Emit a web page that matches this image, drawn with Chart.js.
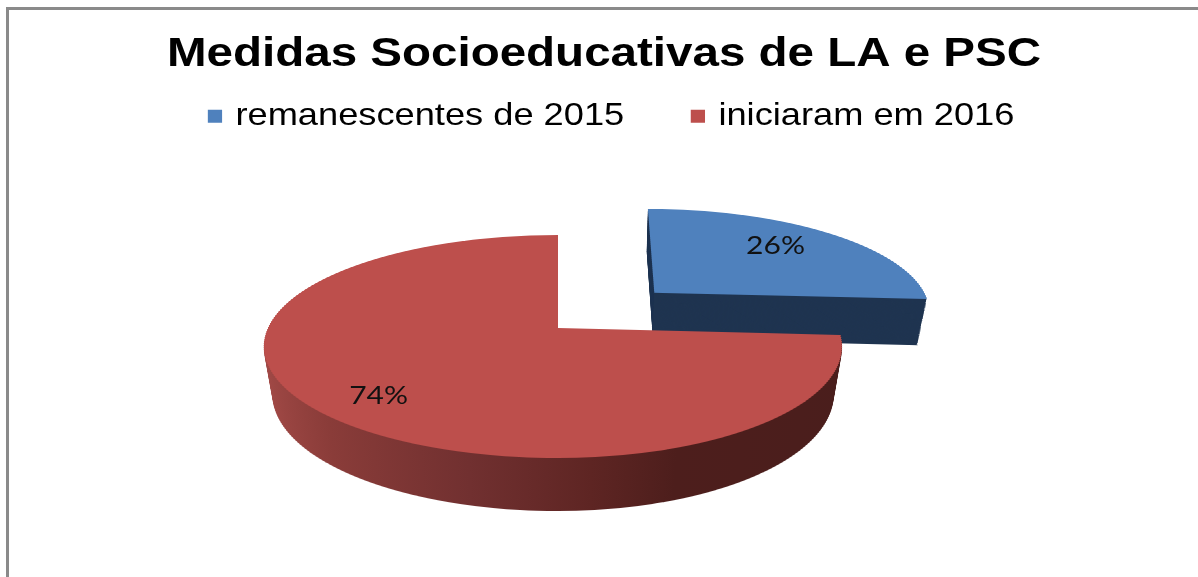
<!DOCTYPE html>
<html>
<head>
<meta charset="utf-8">
<title>Medidas Socioeducativas de LA e PSC</title>
<script src="https://cdn.jsdelivr.net/npm/chart.js@4"></script>
<style>
  html, body { margin: 0; padding: 0; background: #fff; overflow: hidden; }
  #frame { position: absolute; left: 6px; top: 7px; right: -10px; bottom: -10px; border: 3px solid #8a8a8a; }
  #grafico { position: absolute; left: 0; top: 0; }
</style>
</head>
<body>
<div id="frame"></div>
<canvas id="grafico" width="1198" height="577"></canvas>
<script>
const tituloGrafico = 'Medidas Socioeducativas de LA e PSC';
const categorias = ['remanescentes de 2015', 'iniciaram em 2016'];
const valores = [26, 74];
const coresTopo = ['#4f81bd', '#bd4f4c'];

// perspectiva do "pizza 3D": o Chart.js calcula os arcos, aqui so projeta
const vista = { x0: 558, y0: 328, aEsq: 290, aDir: 280, b: 108.4, k: 0.166, alt: 47.5, enc: 0.03 };
// a fatia azul tem eixo proprio, a borda esquerda dela quase nao inclina no original
const eixoAzul = { x0: 607, a: 285, du: 0.19 };
const esticaTexto = 1.188;
const fatorRotulo = [0.74, 0.77];
const ajusteRotulo = [[-10, -1], [-1, 5]];

// o ArcElement desloca so offset/4
function deslocamento(el, raio) {
  return el.options.offset / 4 / raio;
}

function desenhaFace(ctx, el, raio, d, cor) {
  const s = 1 - vista.enc * d;
  const base = vista.alt * d;
  const linhaDeV = v => vista.y0 + (base + s * vista.b * v) / (1 - vista.k * v);
  const vDeLinha = y => {
    const dy = y - vista.y0;
    return (dy - base) / (s * vista.b + vista.k * dy);
  };
  const meio = (el.startAngle + el.endAngle) / 2;
  const desl = deslocamento(el, raio);
  const vc = Math.sin(meio) * desl;
  const azul = Math.cos(meio) > 0 && desl > 0;
  const topo = Math.floor(linhaDeV(vc - 1.02));
  const fim = Math.ceil(linhaDeV(vc + 1.02));
  const opts = el.options;
  el.options = Object.create(opts, { backgroundColor: { value: cor } });
  // lado esquerdo e direito tem larguras um pouco diferentes no original
  const lados = azul
    ? [[0, 1198, eixoAzul.a, eixoAzul.x0, el.x + eixoAzul.du * raio]]
    : [[0, vista.x0, vista.aEsq, vista.x0, el.x], [vista.x0, 1198, vista.aDir, vista.x0, el.x]];
  for (let y = topo; y < fim; y += 2) {
    const vA = vDeLinha(y);
    const vB = vDeLinha(y + 2);
    const w = 1 - vista.k * (vA + vB) / 2;
    const sy = 2 / ((vB - vA) * raio);
    const ty = y - (el.y + vA * raio) * sy;
    for (const [x1, x2, a, xTela, xPlano] of lados) {
      const sx = s * a / (raio * w);
      ctx.save();
      ctx.beginPath();
      ctx.rect(x1, y, x2 - x1, 2);
      ctx.clip();
      ctx.setTransform(sx, 0, 0, sy, xTela - xPlano * sx, ty);
      el.draw(ctx);
      ctx.restore();
    }
  }
  el.options = opts;
}

function desenhaRotulo(ctx, el, raio, i) {
  const meio = (el.startAngle + el.endAngle) / 2;
  const desl = deslocamento(el, raio);
  const r = fatorRotulo[i] + desl;
  const u = Math.cos(meio) * r;
  const v = Math.sin(meio) * r;
  const w = 1 - vista.k * v;
  const x = desl > 0
    ? eixoAzul.x0 + eixoAzul.a * (u - eixoAzul.du) / w
    : vista.x0 + (u < 0 ? vista.aEsq : vista.aDir) * u / w;
  const y = vista.y0 + vista.b * v / w;
  ctx.save();
  ctx.translate(x + ajusteRotulo[i][0], y + ajusteRotulo[i][1]);
  ctx.scale(1.2, 1);
  ctx.font = '25px Lato';
  ctx.fillStyle = '#111';
  ctx.textAlign = 'center';
  ctx.textBaseline = 'middle';
  ctx.fillText(valores[i] + '%', 0, 0);
  ctx.restore();
}

const pizza3d = {
  id: 'pizza3d',
  afterLayout(chart) {
    // legenda fica um pouco a direita do titulo e colada nele
    const leg = chart.legend;
    leg.left += 8;
    leg.right += 8;
    leg.top -= 42;
    leg.bottom -= 42;
  },
  beforeDraw(chart) {
    // o original esta esticado na horizontal, titulo e legenda tambem
    const ctx = chart.ctx;
    const cx = (chart.width + 10) / 2;
    ctx.save();
    ctx.translate(cx, 0);
    ctx.scale(esticaTexto, 1);
    ctx.translate(-cx, 0);
  },
  beforeDatasetsDraw(chart) {
    const ctx = chart.ctx;
    ctx.restore();
    const arcos = chart.getDatasetMeta(0).data;
    const raio = arcos[1].outerRadius;
    const lateral = ctx.createLinearGradient(arcos[1].x - raio, 0, arcos[1].x + raio, 0);
    lateral.addColorStop(0, '#a34a47');
    lateral.addColorStop(0.15, '#8a3c39');
    lateral.addColorStop(0.37, '#713030');
    lateral.addColorStop(0.55, '#5e2523');
    lateral.addColorStop(0.68, '#4d1e1c');
    lateral.addColorStop(1, '#4a1e1c');
    const passos = 48;
    for (let i = passos; i > 0; i--) desenhaFace(ctx, arcos[0], raio, i / passos, '#1f3450');
    desenhaFace(ctx, arcos[0], raio, 0, coresTopo[0]);
    for (let i = passos; i > 0; i--) desenhaFace(ctx, arcos[1], raio, i / passos, lateral);
    desenhaFace(ctx, arcos[1], raio, 0, coresTopo[1]);
    arcos.forEach((el, i) => desenhaRotulo(ctx, el, raio, i));
    return false;
  }
};

new Chart(document.getElementById('grafico'), {
  type: 'pie',
  data: {
    labels: categorias,
    datasets: [{
      data: valores,
      backgroundColor: coresTopo,
      borderWidth: 0,
      offset: [197, 0]
    }]
  },
  plugins: [pizza3d],
  options: {
    responsive: false,
    animation: false,
    events: [],
    layout: { padding: { left: 10 } },
    plugins: {
      tooltip: { enabled: false },
      title: {
        display: true,
        text: tituloGrafico,
        color: '#000',
        font: { family: '"Liberation Sans"', size: 40, weight: 'bold' },
        padding: { top: 31, bottom: 4 }
      },
      legend: {
        position: 'top',
        labels: {
          color: '#222',
          boxWidth: 4,
          boxHeight: 5,
          padding: 60,
          font: { family: '"Liberation Sans"', size: 30.5 },
          // contorno grosso da mesma cor: aproxima o quadrado do texto como no original
          generateLabels(chart) {
            return categorias.map((texto, i) => ({
              text: texto,
              fillStyle: coresTopo[i],
              strokeStyle: coresTopo[i],
              lineWidth: 8,
              index: i
            }));
          }
        }
      }
    }
  }
});
</script>
</body>
</html>
